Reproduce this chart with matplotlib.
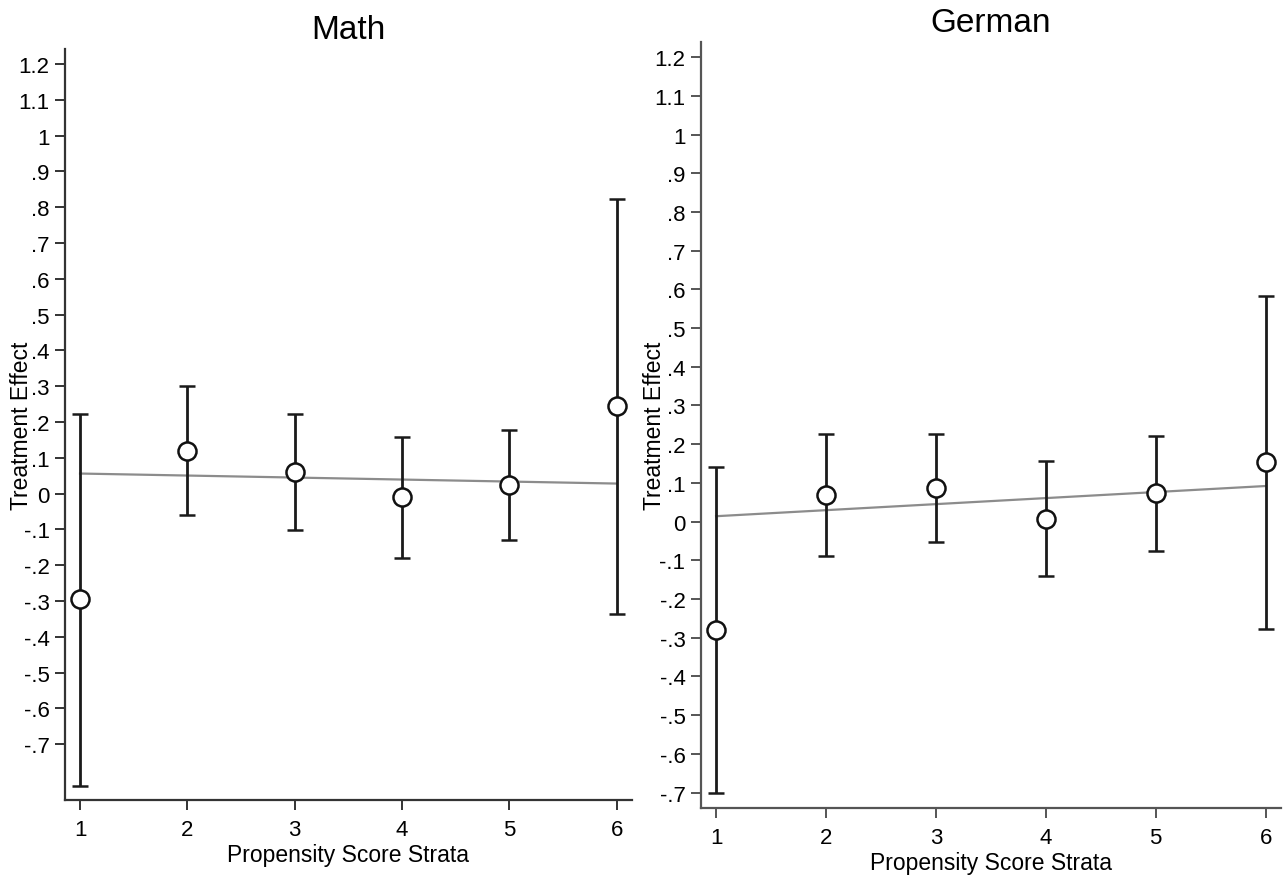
import numpy as np
import matplotlib.pyplot as plt

plt.rcParams["font.family"] = ["Liberation Sans", "DejaVu Sans"]

strata = [1, 2, 3, 4, 5, 6]

math_est = [-0.295, 0.12, 0.06, -0.01, 0.025, 0.244]
math_lo = [-0.816, -0.061, -0.103, -0.179, -0.13, -0.335]
math_hi = [0.223, 0.30, 0.223, 0.157, 0.179, 0.824]
math_fit = [0.056, 0.028]  # fitted value at stratum 1 and 6

german_est = [-0.279, 0.068, 0.087, 0.008, 0.073, 0.153]
german_lo = [-0.70, -0.088, -0.053, -0.14, -0.077, -0.277]
german_hi = [0.142, 0.227, 0.227, 0.157, 0.221, 0.583]
german_fit = [0.014, 0.092]

yticks = np.round(np.arange(-0.7, 1.21, 0.1), 1)


def stata_label(v):
    if abs(v) < 1e-9:
        return "0"
    s = f"{v:.1f}".rstrip("0").rstrip(".")
    return s.replace("0.", ".")


def panel(ax, title, est, lo, hi, fit, ylim, spine_col, ylab_x):
    est = np.array(est)
    err = np.vstack([est - np.array(lo), np.array(hi) - est])
    ax.plot([strata[0], strata[-1]], fit, color="#8c8c8c", lw=1.6, zorder=1)
    ax.errorbar(strata, est, yerr=err, fmt="o", ms=13, mfc="white", mec="#111111",
                mew=1.8, ecolor="#1a1a1a", elinewidth=2, capsize=5.5, capthick=2,
                zorder=2)
    ax.set_xlim(0.86, 6.14)
    ax.set_ylim(*ylim)
    ax.set_xticks(strata)
    ax.set_yticks(yticks)
    ax.set_yticklabels([stata_label(v) for v in yticks])
    for s in ["top", "right"]:
        ax.spines[s].set_visible(False)
    for s in ["left", "bottom"]:
        ax.spines[s].set_color(spine_col)
        ax.spines[s].set_linewidth(1.6)
    ax.tick_params(axis="both", labelsize=16, length=7, width=1.4, color=spine_col)
    ax.tick_params(axis="x", pad=7)
    ax.tick_params(axis="y", pad=4)
    ax.set_title(title, fontsize=24, pad=8)
    ax.set_xlabel("Propensity Score Strata", fontsize=16.5, labelpad=2)
    ax.set_ylabel("Treatment Effect", fontsize=16.5)
    ax.yaxis.set_label_coords(ylab_x, 0.5)


fig = plt.figure(figsize=(12.87, 8.78), dpi=100)
ax1 = fig.add_axes([65 / 1287, 1 - 801 / 878, (631.7 - 65) / 1287, (801 - 50) / 878])
ax2 = fig.add_axes([700.7 / 1287, 1 - 808.7 / 878, (1281 - 700.7) / 1287, (808.7 - 43) / 878])

panel(ax1, "Math", math_est, math_lo, math_hi, math_fit, (-0.856, 1.242), "#333333", -0.056)
panel(ax2, "German", german_est, german_lo, german_hi, german_fit, (-0.739, 1.239), "#555555", -0.060)

fig.savefig("out.png", dpi=100)
